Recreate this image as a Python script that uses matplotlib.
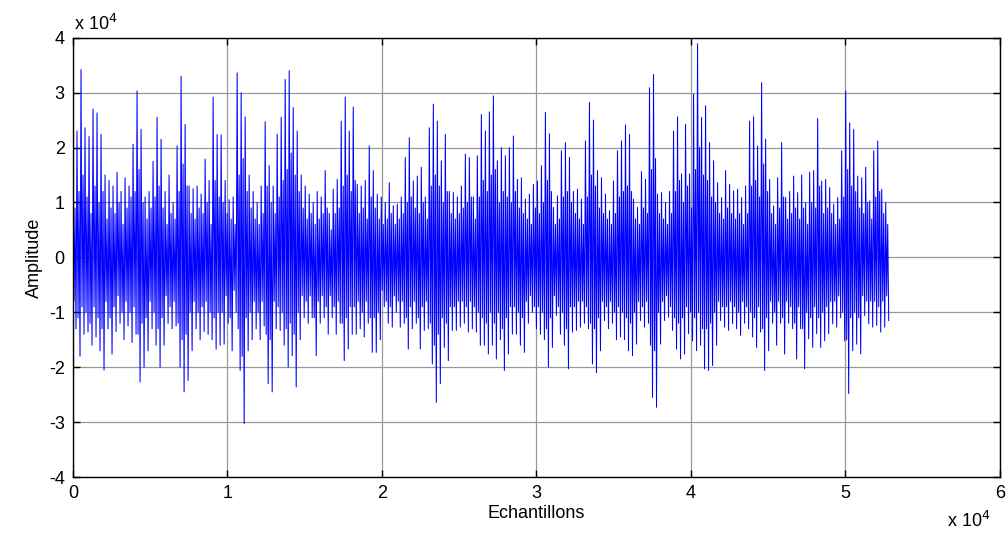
import matplotlib.pyplot as plt
import numpy as np

plt.rcParams['font.family'] = ['Liberation Sans', 'DejaVu Sans']

# peaks, in units of 1e4, one high/low pair per short stretch of samples
hi_peaks = [1.36, 2.3, 3.42, 2.36, 2.2, 2.7, 2.63, 2.24, 1.5, 1.4,
            1.3, 1.55, 1.2, 1.45, 1.3, 2.06, 3.03, 2.33, 1.1, 1.2,
            1.75, 2.55, 2.15, 1.2, 1.5, 1.0, 2.03, 3.3, 2.42, 1.3,
            1.25, 1.3, 1.15, 1.79, 1.4, 2.92, 2.24, 2.23, 1.4, 1.05,
            1.1, 3.36, 3.0, 2.56, 1.5, 1.2, 1.0, 1.3, 2.47, 1.67,
            1.3, 2.24, 2.55, 3.24, 3.4, 2.73, 2.3, 1.5, 1.3, 1.15,
            1.0, 1.2, 1.1, 1.58, 0.8, 1.24, 1.42, 2.48, 2.92, 2.3,
            2.74, 1.33, 1.3, 1.4, 2.03, 1.58, 1.15, 1.1, 1.0, 1.36,
            0.94, 0.97, 1.1, 1.82, 2.18, 1.39, 1.48, 1.64, 1.1, 2.36,
            2.79, 2.48, 1.76, 2.24, 1.2, 1.18, 1.1, 1.3, 1.88, 1.82,
            1.1, 1.85, 2.6, 2.3, 2.65, 2.94, 1.76, 2.0, 1.85, 2.0,
            2.21, 1.42, 1.45, 1.06, 1.15, 1.33, 1.39, 1.67, 2.64, 2.25,
            0.91, 1.12, 1.94, 2.09, 1.82, 1.2, 1.24, 1.06, 2.12, 2.82,
            2.5, 1.58, 1.45, 1.15, 0.85, 1.39, 1.94, 2.12, 2.41, 2.24,
            1.06, 0.91, 1.56, 1.42, 3.09, 3.33, 1.15, 1.18, 1.0, 1.2,
            2.3, 2.56, 1.52, 2.42, 1.52, 2.97, 3.89, 2.55, 2.76, 2.09,
            1.76, 1.36, 1.09, 1.58, 1.33, 1.21, 1.24, 1.09, 1.3, 2.48,
            2.56, 2.03, 3.18, 2.15, 1.42, 0.94, 1.45, 2.09, 1.09, 1.2,
            1.48, 1.18, 1.5, 1.0, 1.55, 1.58, 2.53, 1.39, 1.42, 1.27,
            0.97, 1.09, 1.94, 3.03, 2.45, 2.33, 1.48, 1.45, 1.64, 1.03,
            1.94, 2.12, 1.24, 1.0]
lo_peaks = [-1.3, -1.8, -1.4, -1.36, -1.6, -1.45, -1.7, -2.05, -1.3, -1.76,
            -1.35, -1.2, -1.5, -1.25, -1.55, -1.4, -2.27, -2.0, -1.7, -1.3,
            -1.6, -2.0, -1.6, -1.2, -1.3, -1.25, -2.0, -2.45, -2.24, -1.7,
            -1.3, -1.5, -1.35, -1.4, -1.5, -1.67, -1.6, -1.58, -1.2, -1.7,
            -1.0, -2.06, -3.03, -1.7, -1.5, -1.3, -1.5, -1.25, -2.3, -2.45,
            -1.3, -1.33, -1.6, -2.0, -1.79, -2.36, -1.5, -1.1, -1.2, -1.1,
            -1.79, -1.2, -1.1, -1.4, -1.1, -1.4, -1.2, -1.88, -1.67, -1.4,
            -1.4, -1.3, -1.45, -1.2, -1.73, -1.73, -1.5, -0.9, -1.2, -1.27,
            -1.0, -1.27, -1.2, -1.67, -1.3, -1.2, -1.67, -1.33, -1.3, -1.94,
            -2.64, -2.3, -1.64, -1.88, -1.33, -1.33, -1.27, -1.2, -1.36, -1.3,
            -1.36, -1.6, -1.6, -1.76, -1.6, -1.85, -1.5, -2.06, -1.76, -1.4,
            -1.4, -1.6, -1.73, -1.2, -1.0, -1.3, -1.4, -1.5, -2.0, -1.64,
            -1.06, -1.4, -1.6, -2.03, -1.36, -1.33, -1.27, -1.2, -1.3, -1.94,
            -2.1, -1.7, -1.15, -1.3, -1.2, -1.5, -1.45, -1.5, -1.7, -1.79,
            -1.58, -1.15, -1.27, -1.2, -2.55, -2.73, -1.58, -1.15, -1.09, -1.33,
            -1.67, -1.85, -1.76, -1.39, -1.52, -1.7, -1.6, -2.03, -2.06, -1.97,
            -1.6, -1.15, -1.27, -1.33, -1.21, -1.3, -1.42, -1.2, -1.3, -1.45,
            -1.64, -1.36, -2.06, -1.7, -1.2, -1.6, -1.2, -1.76, -1.2, -1.3,
            -1.85, -1.3, -2.03, -1.48, -1.64, -1.39, -1.64, -1.52, -1.39, -1.21,
            -1.27, -1.1, -1.52, -2.48, -1.7, -1.58, -1.76, -1.06, -1.21, -1.27,
            -1.24, -1.36, -1.27, -1.15]
# smaller swings inside the dense blue core, same stretches
inner_hi = [0.9, 1.2, 1.5, 1.1, 0.8, 1.3, 1.0, 1.2, 0.7, 0.9,
            0.8, 1.0, 0.6, 0.9, 1.1, 1.2, 1.6, 1.0, 0.7, 0.9,
            1.1, 1.3, 0.9, 0.6, 0.8, 0.7, 1.2, 1.7, 1.3, 0.8,
            0.7, 0.9, 0.8, 1.0, 0.6, 1.4, 1.1, 1.0, 0.8, 0.7,
            0.6, 1.5, 1.8, 1.2, 0.9, 0.7, 0.6, 0.8, 1.3, 1.0,
            0.8, 1.1, 1.4, 1.6, 1.9, 1.5, 1.2, 0.9, 0.7, 0.8,
            0.6, 0.7, 0.8, 0.9, 0.5, 0.8, 0.9, 1.3, 1.5, 1.2,
            1.4, 0.8, 0.9, 0.7, 1.1, 0.9, 0.7, 0.6, 0.7, 0.8,
            0.6, 0.7, 0.8, 1.0, 1.1, 0.9, 0.8, 1.0, 0.7, 1.3,
            1.5, 1.3, 1.0, 1.2, 0.8, 0.7, 0.8, 0.9, 1.0, 1.1,
            0.7, 1.1, 1.4, 1.2, 1.5, 1.6, 1.0, 1.2, 1.1, 1.0,
            1.2, 0.9, 0.8, 0.7, 0.6, 0.9, 0.8, 1.0, 1.4, 1.2,
            0.6, 0.7, 1.1, 1.2, 1.0, 0.8, 0.7, 0.6, 1.1, 1.5,
            1.3, 0.9, 0.8, 0.7, 0.6, 0.8, 1.1, 1.2, 1.3, 1.2,
            0.7, 0.6, 0.9, 0.8, 1.6, 1.8, 0.8, 0.7, 0.6, 0.8,
            1.2, 1.4, 1.0, 1.3, 0.9, 1.6, 2.0, 1.5, 1.4, 1.1,
            1.0, 0.8, 0.7, 0.9, 0.8, 0.7, 0.8, 0.6, 0.8, 1.3,
            1.4, 1.1, 1.7, 1.2, 0.8, 0.6, 0.9, 1.1, 0.7, 0.8,
            0.9, 0.7, 0.9, 0.6, 1.0, 0.9, 1.3, 0.8, 0.9, 0.8,
            0.6, 0.7, 1.1, 1.6, 1.3, 1.2, 0.9, 0.8, 1.0, 0.7,
            1.1, 1.2, 0.8, 0.6]
inner_lo = [-0.8, -1.1, -0.9, -1.0, -1.2, -0.9, -1.1, -1.3, -0.8, -1.1,
            -0.9, -0.7, -1.0, -0.8, -1.0, -0.9, -1.4, -1.2, -1.1, -0.8,
            -1.0, -1.3, -1.1, -0.7, -0.9, -0.8, -1.2, -1.5, -1.4, -1.0,
            -0.8, -1.0, -0.9, -0.8, -1.0, -1.1, -1.0, -1.0, -0.7, -1.1,
            -0.6, -1.3, -1.8, -1.1, -1.0, -0.8, -1.0, -0.8, -1.4, -1.5,
            -0.8, -0.9, -1.0, -1.3, -1.2, -1.4, -1.0, -0.7, -0.8, -0.7,
            -1.1, -0.8, -0.7, -0.9, -0.7, -0.9, -0.8, -1.2, -1.1, -0.9,
            -0.9, -0.8, -1.0, -0.8, -1.1, -1.1, -1.0, -0.6, -0.8, -0.9,
            -0.7, -0.8, -0.8, -1.1, -0.9, -0.8, -1.1, -0.9, -0.8, -1.2,
            -1.6, -1.4, -1.1, -1.2, -0.9, -0.9, -0.8, -0.8, -0.9, -0.8,
            -0.9, -1.0, -1.1, -1.2, -1.0, -1.2, -1.0, -1.3, -1.1, -0.9,
            -0.9, -1.0, -1.1, -0.8, -0.7, -0.9, -0.9, -1.0, -1.3, -1.1,
            -0.7, -0.9, -1.0, -1.3, -0.9, -0.9, -0.8, -0.8, -0.9, -1.2,
            -1.3, -1.1, -0.8, -0.9, -0.8, -1.0, -0.9, -1.0, -1.1, -1.2,
            -1.0, -0.8, -0.9, -0.8, -1.6, -1.7, -1.0, -0.8, -0.7, -0.9,
            -1.1, -1.2, -1.1, -0.9, -1.0, -1.1, -1.0, -1.3, -1.3, -1.2,
            -1.0, -0.8, -0.9, -0.9, -0.8, -0.9, -1.0, -0.8, -0.9, -1.0,
            -1.1, -0.9, -1.3, -1.1, -0.8, -1.0, -0.8, -1.1, -0.8, -0.9,
            -1.2, -0.9, -1.3, -1.0, -1.1, -0.9, -1.1, -1.0, -0.9, -0.8,
            -0.8, -0.7, -1.0, -1.5, -1.1, -1.0, -1.1, -0.7, -0.8, -0.8,
            -0.8, -0.9, -0.8, -0.7]
n_samples = 52800
xticks = [0, 1, 2, 3, 4, 5, 6]
yticks = [-4, -3, -2, -1, 0, 1, 2, 3, 4]

# hi -> inner low -> inner high -> lo, for each stretch
signal = np.column_stack([hi_peaks, inner_lo, inner_hi, lo_peaks]).ravel() * 1e4
samples = np.linspace(0, n_samples, len(signal))

fig = plt.figure(figsize=(10.07, 5.39), dpi=100)
ax = fig.add_axes([0.0725, 0.115, 0.9205, 0.815])
ax.plot(samples, signal, color='#0000ff', lw=0.75)

ax.set_xlim(0, 6e4)
ax.set_ylim(-4e4, 4e4)
ax.set_xticks([t * 1e4 for t in xticks])
ax.set_xticklabels([str(t) for t in xticks])
ax.set_yticks([t * 1e4 for t in yticks])
ax.set_yticklabels([str(t) for t in yticks])
ax.grid(True, color='#999999', lw=0.9)
ax.tick_params(direction='in', length=5, width=1, top=True, right=True,
               labelsize=13, pad=6)
for s in ax.spines.values():
    s.set_linewidth(1)

ax.set_xlabel('Echantillons', fontsize=13, labelpad=2)
ax.set_ylabel('Amplitude', fontsize=13, labelpad=4)
fig.text(0.073, 0.955, r'x 10$^4$', fontsize=13, va='center')
fig.text(0.94, 0.015, r'x 10$^4$', fontsize=13, va='bottom')

fig.savefig('out.png', dpi=100)
